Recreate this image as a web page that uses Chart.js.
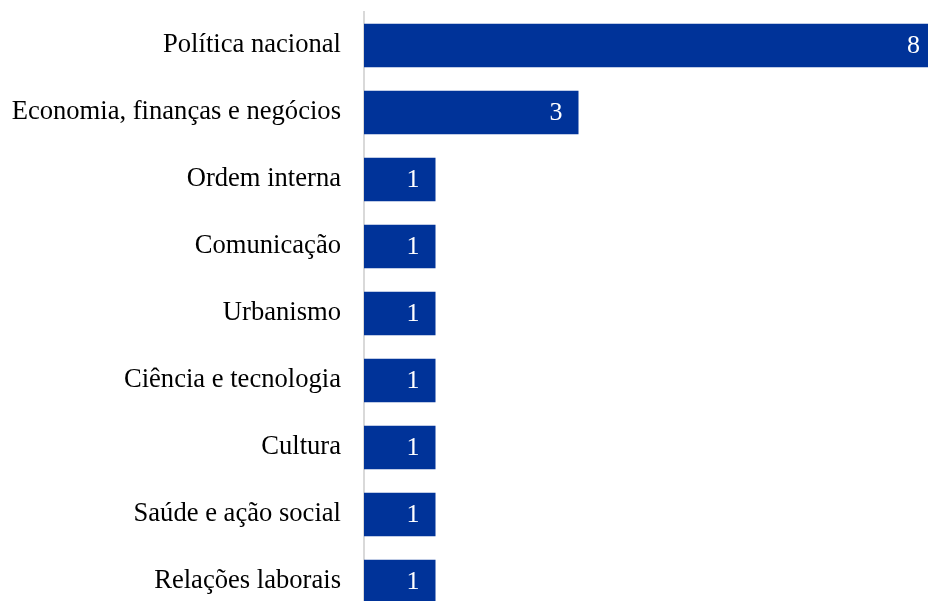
<!DOCTYPE html>
<html>
<head>
<meta charset="utf-8">
<script src="https://cdn.jsdelivr.net/npm/chart.js@4"></script>
<style>
html,body{margin:0;padding:0;overflow:hidden;background:#fff;}
canvas{position:absolute;left:0;top:0;}
</style>
</head>
<body>
<canvas id="c" width="936" height="615"></canvas>
<script>
const categories = ["Política nacional","Economia, finanças e negócios","Ordem interna","Comunicação","Urbanismo","Ciência e tecnologia","Cultura","Saúde e ação social","Relações laborais"];
const values = [8,3,1,1,1,1,1,1,1];

const barLabels = {
  id:'barLabels',
  afterDatasetsDraw(chart){
    const ctx = chart.ctx;
    const meta = chart.getDatasetMeta(0);
    ctx.save();
    ctx.fillStyle = '#ffffff';
    ctx.font = '26px "Liberation Serif", "Times New Roman", serif';
    ctx.textAlign = 'right';
    ctx.textBaseline = 'middle';
    meta.data.forEach((bar,i)=>{
      ctx.fillText(String(values[i]), bar.x - 16, bar.y + 1);
    });
    ctx.restore();
  }
};

new Chart(document.getElementById('c'), {
  type:'bar',
  data:{labels:categories, datasets:[{data:values, backgroundColor:'#003399', borderWidth:0, barPercentage:0.65, categoryPercentage:1}]},
  options:{
    indexAxis:'y',
    responsive:false, animation:false,
    layout:{padding:{top:12,left:0,right:0,bottom:0}},
    plugins:{legend:{display:false}, tooltip:{enabled:false}},
    scales:{
      x:{display:false, min:0, max:8},
      y:{
        grid:{display:false, drawTicks:false},
        border:{display:true, color:'#d9d9d9', width:2},
        ticks:{color:'#000', padding:23, font:{family:'"Liberation Serif", "Times New Roman", serif', size:26.6}},
        afterFit(scale){ scale.paddingTop = 0; scale.paddingBottom = 0; scale.width = 364; }
      }
    }
  },
  plugins:[barLabels]
});
</script>
</body>
</html>
